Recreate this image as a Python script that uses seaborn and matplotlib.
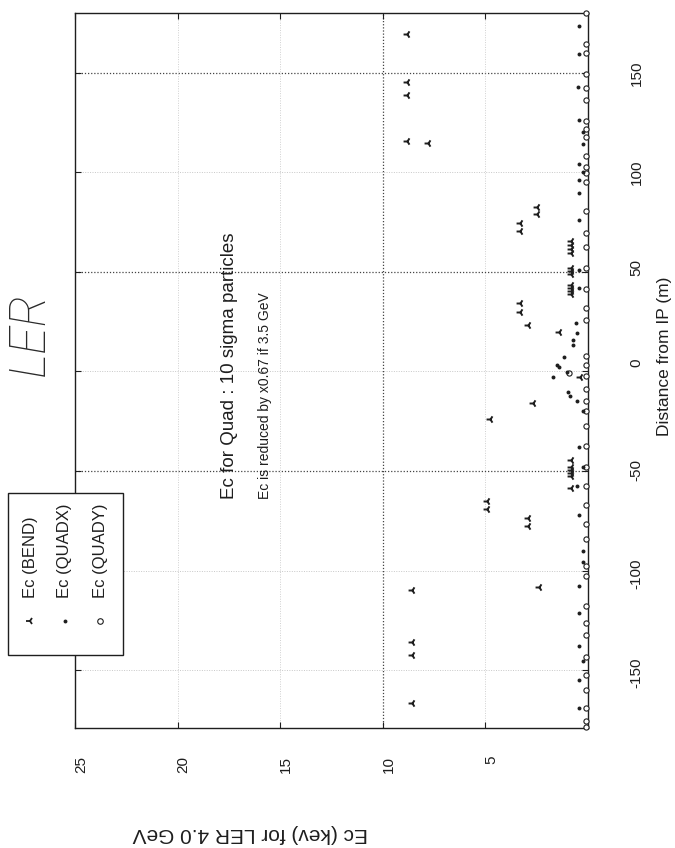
import matplotlib
matplotlib.use("Agg")
import matplotlib.pyplot as plt
import matplotlib.transforms as mtransforms
import seaborn as sns
import pandas as pd
from matplotlib.lines import Line2D
from matplotlib.patches import Rectangle

sns.set_theme(style="white")
plt.rcParams['font.family'] = ['Liberation Sans', 'DejaVu Sans']

# Critical energy Ec (keV) of synchrotron radiation vs distance from IP (m), LER at 4.0 GeV
bend_ec = [8.8, 8.8, 8.8, 8.8, 7.8, 2.5, 2.5, 3.3, 3.3,
           0.85, 0.85, 0.85, 0.85, 0.85, 0.85, 0.85, 0.85, 0.85, 0.85, 0.85,
           3.3, 3.3, 2.9, 1.4, 0.4, 2.7, 4.8,
           0.85, 0.85, 0.85, 0.85, 0.85, 0.85,
           4.9, 4.9, 2.9, 2.9, 8.6, 2.4, 8.6, 8.6, 8.6]
bend_s = [169.5, 145.5, 139, 115.5, 114.5, 82.5, 79, 74.5, 70.5,
          65.5, 63.5, 61.5, 59.5, 52, 50.5, 49, 43.5, 42, 40.5, 39,
          34.5, 30, 23.5, 20, -3, -16, -24,
          -44.5, -48, -49.5, -51, -52.5, -58.5,
          -65, -69, -73.5, -77.5, -109.5, -108, -136, -142.5, -166.5]

quadx_ec = [0.42, 0.42, 0.5, 0.42, 0.26, 0.26, 0.42, 0.26, 0.42, 0.42, 0.42,
            0.42, 0.42, 0.6, 0.55, 0.72, 0.72, 1.15, 1.5, 1.4, 1.04, 1.72,
            0.96, 0.88, 0.55, 0.26, 0.42, 0.26, 0.55,
            0.42, 0.26, 0.26, 0.42, 0.42, 0.42, 0.26, 0.42, 0.42]
quadx_s = [173.5, 159.5, 143, 126.5, 120.5, 114, 104, 100, 96, 89.5, 76,
           51, 42, 24.5, 19.5, 16, 13.5, 7.5, 3.5, 2.5, -0.5, -3,
           -10.5, -12.5, -15, -20, -38, -48, -57.5,
           -72, -90, -95.5, -107.5, -121.5, -138, -145.5, -155, -169]

quady_ec = [0.1] * 44 + [0.95]
quady_s = [180, 164.5, 160, 149.5, 142.5, 136.5, 126, 122, 117.5, 108, 102.5,
           99.5, 95, 80.5, 69.5, 62.5, 52, 41.5, 32, 26, 8, 3.5, -2.5, -9,
           -15, -20, -27.5, -37.5, -48, -57.5, -67, -76.5, -84, -97.5, -102.5,
           -117.5, -126.5, -132.5, -143.5, -152.5, -160, -169, -175.5, -178.5,
           -1]

ec_ticks = [25, 20, 15, 10, 5]
s_ticks = [-150, -100, -50, 0, 50, 100, 150]

INK = "#1e1e1e"
W, H = 675, 848
fig = plt.figure(figsize=(W / 100, H / 100), dpi=100)
fig.patch.set_facecolor("white")

# axes: horizontal = Ec (25 on the left, 0 on the right), vertical = distance
ax = fig.add_axes([75 / W, 1 - 728 / H, (588 - 75) / W, (728 - 13) / H])
ax.set_xlim(25, 0)
ax.set_ylim(-179, 180)

# dotted grid, some lines heavier than others
for s in s_ticks:
    strong = s in (150, 50, -50)
    ax.axhline(s, ls=(0, (1, 1.5)), lw=0.9 if strong else 0.7,
               color="#444" if strong else "#c8c8c8", zorder=0.5)
for e in ec_ticks[1:]:
    strong = e == 10
    ax.axvline(e, ls=(0, (1, 1.5)), lw=0.9 if strong else 0.7,
               color="#444" if strong else "#d0d0d0", zorder=0.5)

bend = pd.DataFrame({"Ec": bend_ec, "s": bend_s})
quadx = pd.DataFrame({"Ec": quadx_ec, "s": quadx_s})
quady = pd.DataFrame({"Ec": quady_ec, "s": quady_s})

sns.scatterplot(data=quady, x="Ec", y="s", marker="o", s=14, facecolor="white",
                edgecolor=INK, linewidth=0.8, ax=ax, zorder=4, clip_on=False)
sns.scatterplot(data=quadx, x="Ec", y="s", marker="o", s=8, color=INK,
                linewidth=0, ax=ax, zorder=4, clip_on=False)
sns.scatterplot(data=bend, x="Ec", y="s", marker="3", s=32, color=INK,
                linewidth=1.4, ax=ax, zorder=4, clip_on=False)

for sp in ax.spines.values():
    sp.set_color(INK)
    sp.set_linewidth(1.0)

ax.set_xticks(ec_ticks)
ax.set_xticklabels([str(t) for t in ec_ticks])
ax.set_yticks(s_ticks)
ax.set_yticklabels([str(t) for t in s_ticks])
ax.tick_params(axis="x", direction="in", length=4, width=0.8, top=True, bottom=True,
               labelrotation=90, pad=20, labelsize=11, colors=INK)
ax.tick_params(axis="y", direction="in", length=4, width=0.8, left=True, right=True,
               labelleft=False, labelright=True, labelrotation=90, pad=30,
               labelsize=11, colors=INK)

# tick labels sit slightly off their ticks
shift_x = mtransforms.ScaledTranslation(6 / 100, 0, fig.dpi_scale_trans)
for lab in ax.get_xticklabels():
    lab.set_transform(lab.get_transform() + shift_x)
shift_y = mtransforms.ScaledTranslation(0, 7 / 100, fig.dpi_scale_trans)
for lab in ax.get_yticklabels():
    lab.set_transform(lab.get_transform() + shift_y)

ax.yaxis.set_label_position("right")
ax.set_ylabel("Distance from IP (m)", fontsize=12.5, color=INK)
ax.yaxis.set_label_coords((657 - 75) / 513, (728 - 356) / 715)
ax.set_xlabel("Ec (kev) for LER 4.0 GeV", fontsize=15, color=INK, rotation=180)
ax.xaxis.set_label_coords((250 - 75) / 513, (728 - 824) / 715)

ax.text(17.45, 3, "Ec for Quad : 10 sigma particles", rotation=90,
        ha="center", va="center", fontsize=13.5, color=INK)
ax.text(15.74, -12, "Ec is reduced by x0.67 if 3.5 GeV", rotation=90,
        ha="center", va="center", fontsize=10, color=INK)

# handwritten-style title
fig.text(30 / W, 1 - 334 / H, "LER", rotation=90, ha="center", va="center",
         fontsize=36, style="italic", fontweight="light", color="#2a2a2a",
         family=["Roboto", "Liberation Sans", "DejaVu Sans"])

# legend box with vertical entries
fig.add_artist(Rectangle((8 / W, 1 - 655 / H), 115 / W, 162 / H,
                         transform=fig.transFigure, facecolor="white",
                         edgecolor=INK, lw=1.0, zorder=5))
entries = [("Ec (BEND)", "3", 30, dict(ms=5.5, mew=1.3, color=INK)),
           ("Ec (QUADX)", "o", 65, dict(ms=2.8, color=INK, mew=0)),
           ("Ec (QUADY)", "o", 100, dict(ms=4, mfc="white", mec=INK, mew=0.8))]
for label, mk, xpx, kw in entries:
    fig.text(xpx / W, 1 - 598 / H, label, rotation=90, ha="center", va="bottom",
             fontsize=12, color=INK, zorder=6)
    fig.add_artist(Line2D([xpx / W], [1 - 621 / H], marker=mk, ls="none",
                          transform=fig.transFigure, zorder=6, **kw))

fig.savefig("out.png", dpi=100, facecolor="white")
